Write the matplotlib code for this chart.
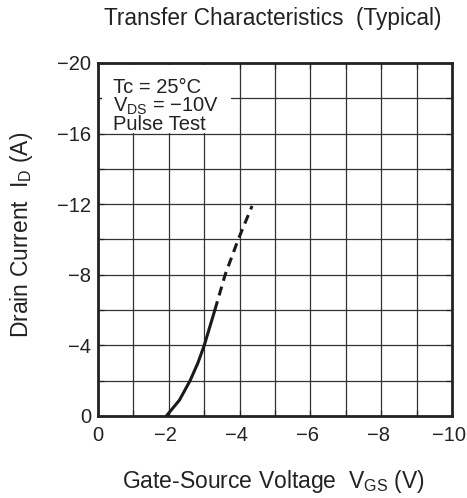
import matplotlib
matplotlib.use('Agg')
import matplotlib.pyplot as plt
import matplotlib.transforms as mtransforms
from matplotlib.patches import Rectangle
import numpy as np

plt.rcParams['font.family'] = ['Liberation Sans', 'DejaVu Sans']
plt.rcParams['mathtext.fontset'] = 'custom'
plt.rcParams['mathtext.rm'] = 'Liberation Sans'

# measured part of the curve (solid) and extrapolated part (dashed)
vgs_solid = [-1.93, -2.3, -2.6, -2.82, -3.0, -3.15, -3.3]
id_solid = [0.0, -0.9, -2.0, -3.0, -4.0, -5.0, -6.0]
vgs_dash = [-3.3, -3.59, -3.96, -4.35]
id_dash = [-6.0, -8.0, -10.0, -11.9]

xticks = [0, -2, -4, -6, -8, -10]
xlabels = ['0', '\u22122', '\u22124', '\u22126', '\u22128', '\u221210']
yticks = [0, -4, -8, -12, -16, -20]
ylabels = ['0', '\u22124', '\u22128', '\u221212', '\u221216', '\u221220']

ink = '#222222'

fig = plt.figure(figsize=(4.67, 4.98), dpi=100)
ax = fig.add_axes([0.2099, 0.1647, 0.7581, 0.7088])

ax.plot(vgs_solid, id_solid, color='#1a1a1a', lw=2.2, solid_capstyle='round', zorder=3)
ax.plot(vgs_dash, id_dash, color='#1a1a1a', lw=2.2, dashes=(3.0, 2.0), zorder=3)

ax.set_xlim(0, -10)
ax.set_ylim(0, -20)
ax.set_xticks(xticks)
ax.set_xticklabels(xlabels)
ax.set_yticks(yticks)
ax.set_yticklabels(ylabels)
ax.set_xticks(np.arange(0, -10.5, -1), minor=True)
ax.set_yticks(np.arange(0, -20.5, -2), minor=True)
ax.grid(True, which='both', color='#333333', lw=0.9)
ax.tick_params(which='both', direction='in', length=4, width=0.9, colors=ink,
               top=True, right=True)
ax.tick_params(axis='x', labelsize=14.5, pad=7)
ax.tick_params(axis='y', labelsize=14.5, pad=5)

# put the digit (not the minus sign) under each grid line
shift = mtransforms.ScaledTranslation(-3 / 100, 0, fig.dpi_scale_trans)
for lab in ax.get_xticklabels():
    if lab.get_text() != '0':
        lab.set_transform(lab.get_transform() + shift)

for sp in ax.spines.values():
    sp.set_linewidth(2.0)
    sp.set_color(ink)

# white panel behind the test conditions
ax.add_patch(Rectangle((-0.1, -16.05), -3.65, -3.85, facecolor='white',
                       edgecolor='none', zorder=2))
ax.text(-0.42, -19.15, 'Tc = 25\u00b0C\n$\\mathregular{V_{DS}}$ = \u221210V\nPulse Test',
        fontsize=14.5, va='top', ha='left', color=ink, linespacing=0.9, zorder=4)

fig.text(0.585, 0.962, 'Transfer Characteristics  (Typical)', ha='center', va='center',
         fontsize=16.3, color=ink)
fig.text(273 / 467, 1 - 481 / 498, 'Gate-Source Voltage  $\\mathregular{V_{GS}}$ (V)',
         ha='center', va='center', fontsize=16.5, color=ink)
fig.text(22 / 467, 1 - 235 / 498, 'Drain Current  $\\mathregular{I_D}$ (A)',
         ha='center', va='center', rotation=90, fontsize=16.5, color=ink)

fig.savefig('out.png', dpi=100)
